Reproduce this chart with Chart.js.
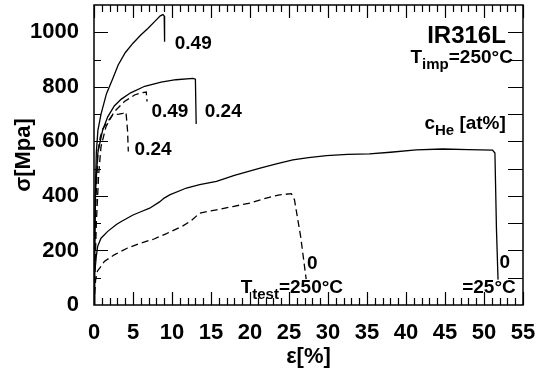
<!DOCTYPE html>
<html>
<head>
<meta charset="utf-8">
<script src="https://cdn.jsdelivr.net/npm/chart.js@4.4.1/dist/chart.umd.min.js"></script>
<style>
  html, body { margin: 0; padding: 0; background: #fff; }
  #wrap { width: 545px; height: 376px; }
</style>
</head>
<body>
<div id="wrap"><canvas id="ssChart" width="545" height="376"></canvas></div>
<script>
// strain [%] and stress [MPa], one pair per curve
// T_test = 25 C (solid)
const eps25_049 = [0, 0.15, 0.3, 0.5, 0.9, 1.6, 2.4, 3.1, 4.0, 5.0, 6.0, 6.9, 7.8, 8.5, 8.85, 9.0, 9.05];
const sig25_049 = [0, 400, 560, 640, 700, 775, 830, 880, 925, 960, 990, 1014, 1040, 1060, 1065, 1060, 965];

const eps25_024 = [0, 0.2, 0.5, 1.1, 1.76, 2.6, 3.5, 4.7, 6.5, 8.6, 10.5, 12.7, 13.0, 13.1];
const sig25_024 = [0, 420, 560, 640, 690, 730, 755, 778, 802, 817, 826, 831, 828, 664];

const eps25_0 = [0, 0.1, 0.3, 0.47, 0.9, 1.76, 2.87, 3.5, 5.0, 6.0, 7.14, 8.4, 9.0, 9.7, 11.85, 13.55, 15.7, 18.0, 21.3, 23.5, 25.5, 27.5, 29.8, 32.5, 35.3, 38.0, 41.3, 44.7, 48.0, 51.1, 51.4, 51.6, 51.8];
const sig25_0 = [0, 120, 180, 215, 245, 270, 295, 306, 330, 342, 355, 378, 392, 404, 429, 441, 453, 475, 502, 518, 532, 540, 548, 552, 554, 560, 569, 572, 570, 568, 557, 276, 93];

// T_test = 250 C (dashed)
const eps250_049 = [0, 0.3, 0.6, 0.9, 1.54, 2.6, 3.9, 5.2, 6.0, 6.7, 6.8];
const sig250_049 = [0, 300, 480, 581, 654, 709, 746, 770, 778, 781, 746];

const eps250_024 = [0, 0.2, 0.5, 0.8, 1.1, 1.76, 2.4, 3.2, 3.7, 4.1, 4.3, 4.4];
const sig250_024 = [0, 350, 560, 615, 645, 672, 697, 700, 703, 707, 640, 563];

const eps250_0 = [0, 0.2, 0.45, 0.8, 1.33, 2.6, 4.3, 6.0, 7.7, 9.3, 11.4, 12.5, 13.55, 15.7, 17.8, 20.0, 22.1, 23.8, 25.3, 25.7, 26.5, 27.2];
const sig250_0 = [0, 90, 125, 138, 160, 184, 209, 227, 242, 262, 290, 310, 337, 349, 361, 374, 392, 404, 408, 386, 250, 95];

const xTicks = [0, 5, 10, 15, 20, 25, 30, 35, 40, 45, 50, 55];
const yTicks = [0, 200, 400, 600, 800, 1000];

const FONT = '"Liberation Sans", Arial, Helvetica, sans-serif';

function pts(xs, ys) {
  return xs.map((v, i) => ({ x: v, y: ys[i] }));
}

function curve(xs, ys, dashed) {
  return {
    data: pts(xs, ys),
    showLine: true,
    borderColor: '#000',
    borderWidth: 1.3,
    borderDash: dashed ? [7, 4] : [],
    pointRadius: 0,
    tension: 0
  };
}

// labels: position in data units, parts with optional subscript
const notes = [
  { x: 10.35, y: 961, align: 'left', parts: [{ t: '0.49' }] },
  { x: 7.36, y: 712, align: 'left', parts: [{ t: '0.49' }] },
  { x: 14.2, y: 712, align: 'left', parts: [{ t: '0.24' }] },
  { x: 5.2, y: 575, align: 'left', parts: [{ t: '0.24' }] },
  { x: 52.8, y: 994, align: 'right', big: true, parts: [{ t: 'IR316L' }] },
  { x: 53.7, y: 887, align: 'right', base: true, parts: [{ t: 'T' }, { t: 'imp', sub: true }, { t: '=250°C' }] },
  { x: 52.8, y: 645, align: 'right', base: true, parts: [{ t: 'c' }, { t: 'He', sub: true }, { t: ' [at%]' }] },
  { x: 27.3, y: 132, align: 'left', base: true, parts: [{ t: '0' }] },
  { x: 18.8, y: 45, align: 'left', base: true, parts: [{ t: 'T' }, { t: 'test', sub: true }, { t: '=250°C' }] },
  { x: 52.0, y: 136, align: 'left', base: true, parts: [{ t: '0' }] },
  { x: 47.2, y: 45, align: 'left', base: true, parts: [{ t: '=25°C' }] }
];

function partFont(p, big) {
  if (p.sub) return 'bold 15px ' + FONT;
  return (big ? 'bold 24px ' : 'bold 19px ') + FONT;
}

const frame = {
  id: 'frame',
  afterDatasetsDraw(chart) {
    const { ctx, chartArea: a, scales: { x, y } } = chart;
    ctx.save();
    ctx.strokeStyle = '#000';
    ctx.lineWidth = 1.5;
    ctx.strokeRect(a.left, a.top, a.right - a.left, a.bottom - a.top);

    // inward ticks on all four sides
    ctx.lineWidth = 1.2;
    ctx.beginPath();
    for (let v = 0; v <= 55; v++) {
      const px = Math.round(x.getPixelForValue(v)) + 0.5;
      const len = v % 5 === 0 ? 13 : 7;
      ctx.moveTo(px, a.bottom); ctx.lineTo(px, a.bottom - len);
      ctx.moveTo(px, a.top); ctx.lineTo(px, a.top + len);
    }
    for (let v = 100; v < 1100; v += 100) {
      const py = Math.round(y.getPixelForValue(v)) + 0.5;
      ctx.moveTo(a.left, py); ctx.lineTo(a.left + (v % 200 === 0 ? 14 : 7), py);
      ctx.moveTo(a.right, py); ctx.lineTo(a.right - 15, py);
    }
    ctx.stroke();

    // text notes
    ctx.fillStyle = '#000';
    ctx.textBaseline = 'alphabetic';
    ctx.textAlign = 'left';
    notes.forEach(n => {
      let w = 0;
      n.parts.forEach(p => { ctx.font = partFont(p, n.big); w += ctx.measureText(p.t).width; });
      let cx = x.getPixelForValue(n.x);
      if (n.align === 'right') cx -= w;
      let by = y.getPixelForValue(n.y);
      if (!n.base) by += n.big ? 9 : 6.5;
      n.parts.forEach(p => {
        ctx.font = partFont(p, n.big);
        ctx.fillText(p.t, cx, by + (p.sub ? 6 : 0));
        cx += ctx.measureText(p.t).width;
      });
    });
    ctx.restore();
  }
};

new Chart(document.getElementById('ssChart'), {
  type: 'scatter',
  data: {
    datasets: [
      curve(eps25_049, sig25_049, false),
      curve(eps25_024, sig25_024, false),
      curve(eps25_0, sig25_0, false),
      curve(eps250_049, sig250_049, true),
      curve(eps250_024, sig250_024, true),
      curve(eps250_0, sig250_0, true)
    ]
  },
  options: {
    responsive: false,
    animation: false,
    layout: { padding: { top: 5, right: 22, left: 0, bottom: 0 } },
    plugins: { legend: { display: false }, tooltip: { enabled: false } },
    scales: {
      x: {
        type: 'linear',
        min: 0,
        max: 55,
        grid: { display: false },
        border: { display: false },
        afterBuildTicks(s) { s.ticks = xTicks.map(v => ({ value: v })); },
        afterFit(s) { s.height = 71; s.paddingLeft = 0; s.paddingRight = 0; },
        ticks: {
          autoSkip: false,
          maxRotation: 0,
          padding: 7,
          color: '#000',
          callback: v => String(v),
          font: { family: FONT, size: 22, weight: 'bold' }
        },
        title: {
          display: true,
          text: 'ε[%]',
          color: '#000',
          padding: { top: 0, bottom: 6 },
          font: { family: FONT, size: 22, weight: 'bold' }
        }
      },
      y: {
        type: 'linear',
        min: 0,
        max: 1100,
        grid: { display: false },
        border: { display: false },
        afterBuildTicks(s) { s.ticks = yTicks.map(v => ({ value: v })); },
        afterFit(s) { s.width = 94; s.paddingTop = 0; s.paddingBottom = 0; },
        ticks: {
          padding: 7,
          color: '#000',
          callback: v => String(v),
          font: { family: FONT, size: 22, weight: 'bold' }
        },
        title: {
          display: true,
          text: 'σ[Mpa]',
          color: '#000',
          padding: { top: 11, bottom: 0 },
          font: { family: FONT, size: 22, weight: 'bold' }
        }
      }
    }
  },
  plugins: [frame]
});
</script>
</body>
</html>
